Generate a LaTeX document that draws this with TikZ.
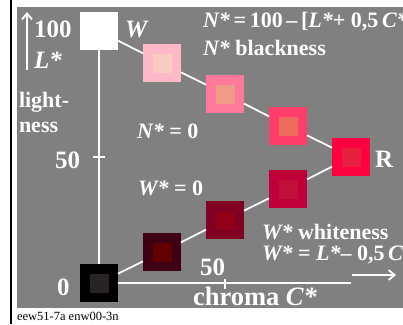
\documentclass[tikz,border=0pt]{standalone}
\usepackage{fontspec}
\setmainfont{Liberation Serif}
\usepackage{xcolor}
\usetikzlibrary{arrows.meta}
\definecolor{bggray}{HTML}{808080}
\definecolor{pkAo}{HTML}{FFB8C8}
\definecolor{pkAi}{HTML}{F8CCC0}
\definecolor{pkBo}{HTML}{FF7A9A}
\definecolor{pkBi}{HTML}{F09A88}
\definecolor{pkCo}{HTML}{FF3D6A}
\definecolor{pkCi}{HTML}{EE6A5A}
\definecolor{redo}{HTML}{FF0040}
\definecolor{redi}{HTML}{E8203F}
\definecolor{dkAo}{HTML}{400014}
\definecolor{dkAi}{HTML}{600000}
\definecolor{dkBo}{HTML}{800024}
\definecolor{dkBi}{HTML}{900018}
\definecolor{dkCo}{HTML}{C00038}
\definecolor{dkCi}{HTML}{C0103A}
\definecolor{blki}{HTML}{282424}
% square with its inner patch
\newcommand{\colsq}[5]{%
  \node[sq,fill=#4] (#1) at (#2,#3) {};
  \node[insq,fill=#5] (#1i) at (#1) {};}

\begin{document}
\begin{tikzpicture}[x=1pt,y=-1pt,>={Straight Barb[length=6pt,width=10pt]},
  every node/.style={inner sep=0pt,outer sep=0pt},
  sq/.style={minimum size=38pt},
  insq/.style={minimum size=19pt},
  wline/.style={white,line width=1.8pt},
  lbl/.style={text=white,anchor=base west,font=\bfseries\fontsize{22}{24}\selectfont},
  big/.style={lbl,font=\bfseries\fontsize{25}{27}\selectfont}]
  \useasboundingbox (0,0) rectangle (403,324);
  \fill[white] (0,0) rectangle (403,324);
  \fill[bggray] (17,7) rectangle (403,308);
  \draw[black,line width=2pt] (11,0) -- (11,324);

  % colour samples
  \node[sq,fill=white] (W) at (99,31) {};
  \colsq{P1}{162}{63}{pkAo}{pkAi}
  \colsq{P2}{225}{94}{pkBo}{pkBi}
  \colsq{P3}{288}{126}{pkCo}{pkCi}
  \colsq{R}{351}{157}{redo}{redi}
  \colsq{K}{99}{283}{black}{blki}
  \colsq{D1}{162}{252}{dkAo}{dkAi}
  \colsq{D2}{225}{220}{dkBo}{dkBi}
  \colsq{D3}{288}{189}{dkCo}{dkCi}

  \draw[wline] (W) -- (P1) -- (P2) -- (P3) -- (R);
  \draw[wline] (K) -- (D1) -- (D2) -- (D3) -- (R);

  % axes
  \coordinate (xend) at (351,283);
  \coordinate (ty0) at (93,157);
  \coordinate (ty1) at (105,157);
  \coordinate (tx0) at (225,279);
  \coordinate (tx1) at (225,289);
  \draw[wline,line width=1.5pt] (W) -- (K);
  \draw[wline,line width=1.5pt] (K) -- (xend);
  \draw[wline,line width=1.5pt] (ty0) -- (ty1);
  \draw[wline,line width=1.5pt] (tx0) -- (tx1);

  \coordinate (lup0) at (27,70);
  \coordinate (lup1) at (27,12);
  \draw[wline,->] (lup0) -- (lup1);
  \coordinate (crt0) at (352,275);
  \coordinate (crt1) at (396,275);
  \draw[wline,->] (crt0) -- (crt1);

  % labels
  \node[big] (l100) at (34,37) {100};
  \node[big] (lL) at (34,68) {\itshape L*};
  \node[lbl] (llight) at (19,107) {light-};
  \node[lbl] (lness) at (19,132) {ness};
  \node[big] (l50y) at (55,168) {50};
  \node[big] (l0) at (57,295) {0};
  \node[big] (lW) at (125,37) {\itshape W};
  \node[lbl] (nform) at (203,27)
    {\itshape N*\upshape\,=\,100\,–\,[\itshape L*\upshape+ 0,5\,\itshape C*\upshape]};
  \node[lbl] (nblack) at (203,55) {\itshape N*\upshape{} blackness};
  \node[lbl] (nzero) at (137,138) {\itshape N*\upshape{} = 0};
  \node[lbl] (wzero) at (138,195) {\itshape W*\upshape{} = 0};
  \node[big] (lR) at (375,167) {R};
  \node[lbl] (wwhite) at (262,239) {\itshape W*\upshape{} whiteness};
  \node[lbl] (wform) at (262,260)
    {\itshape W*\upshape{} = \itshape L*\upshape– 0,5\,\itshape C*};
  \node[big] (l50x) at (200,275) {50};
  \node[big,font=\bfseries\fontsize{26.5}{28}\selectfont] (lchroma) at (193,305)
    {chroma \itshape C*};
  \node[anchor=base west,font=\fontsize{12.5}{14}\selectfont] (code) at (17,320)
    {eew51-7a enw00-3n};
\end{tikzpicture}
\end{document}
